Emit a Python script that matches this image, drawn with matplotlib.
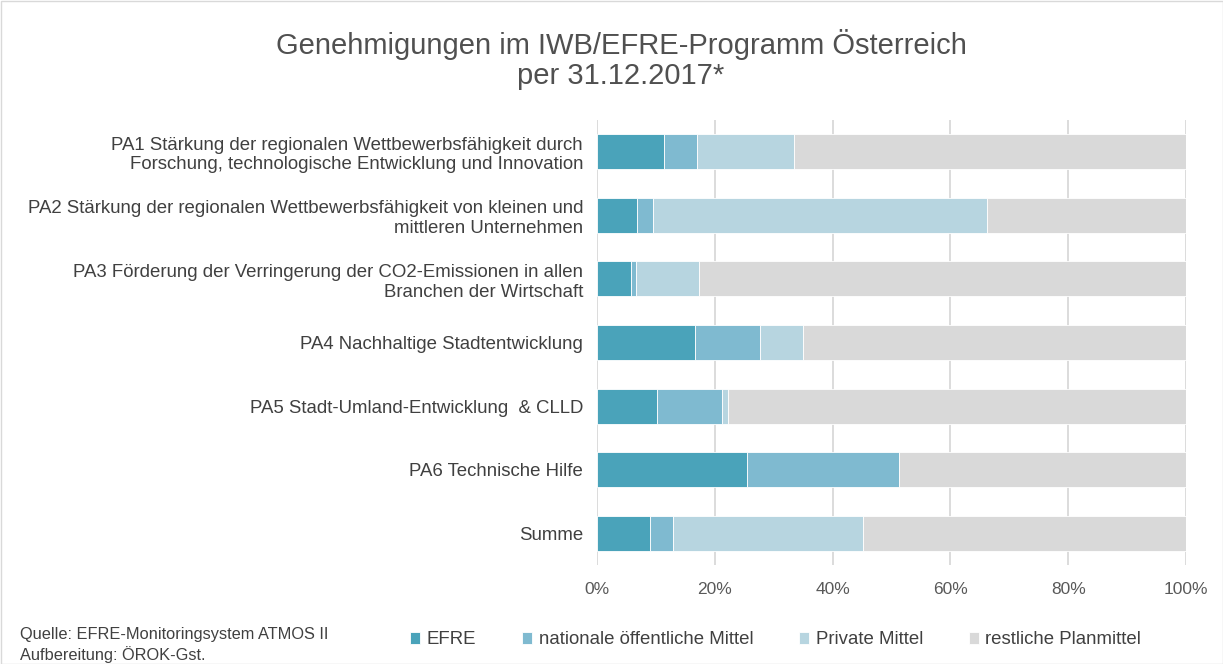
import matplotlib
matplotlib.use("Agg")
import matplotlib.pyplot as plt
from matplotlib.patches import Rectangle
import numpy as np

plt.rcParams['font.family'] = ['Liberation Sans', 'DejaVu Sans']

categories = [
    "PA1 Stärkung der regionalen Wettbewerbsfähigkeit durch\nForschung, technologische Entwicklung und Innovation",
    "PA2 Stärkung der regionalen Wettbewerbsfähigkeit von kleinen und\nmittleren Unternehmen",
    "PA3 Förderung der Verringerung der CO2-Emissionen in allen\nBranchen der Wirtschaft",
    "PA4 Nachhaltige Stadtentwicklung",
    "PA5 Stadt-Umland-Entwicklung  & CLLD",
    "PA6 Technische Hilfe",
    "Summe",
]
efre = [11.4, 6.8, 5.8, 16.6, 10.2, 25.5, 9.0]
national = [5.5, 2.7, 0.9, 11.1, 11.1, 25.7, 3.9]
private = [16.6, 56.7, 10.6, 7.3, 0.9, 0.0, 32.3]
rest = [100 - a - b - c for a, b, c in zip(efre, national, private)]

series_names = ["EFRE", "nationale öffentliche Mittel", "Private Mittel", "restliche Planmittel"]
colors = ["#4AA3BA", "#7FBAD0", "#B7D5E0", "#D9D9D9"]
xticks = [0, 20, 40, 60, 80, 100]
xticklabels = ["0%", "20%", "40%", "60%", "80%", "100%"]

fig = plt.figure(figsize=(12.23, 6.64), dpi=100)
ax = fig.add_axes([597/1223, 1 - 565/664, (1186-597)/1223, (565-120)/664])

y = np.arange(len(categories))
left = np.zeros(len(categories))
for vals, name, col in zip([efre, national, private, rest], series_names, colors):
    ax.barh(y, vals, left=left, height=0.55, color=col, edgecolor="white", linewidth=0.6, label=name, zorder=3)
    left += np.array(vals)

ax.set_xlim(0, 100)
ax.set_ylim(len(categories) - 0.5, -0.5)
ax.set_yticks(y)
ax.set_yticklabels(categories, fontsize=13.4, color="#404040", ha="right")
ax.set_xticks(xticks)
ax.set_xticklabels(xticklabels, fontsize=12.5, color="#595959")
ax.tick_params(axis="y", length=0, pad=10)
ax.tick_params(axis="x", length=0, pad=12)
ax.grid(axis="x", color="#D9D9D9", linewidth=1.3, zorder=0)
for s in ax.spines.values():
    s.set_visible(False)

fig.text(621/1223, 1 - 45/664, "Genehmigungen im IWB/EFRE-Programm Österreich", ha="center", va="center",
         fontsize=21, color="#505050")
fig.text(621/1223, 1 - 76/664, "per 31.12.2017*", ha="center", va="center", fontsize=21, color="#505050")

fig.text(20/1223, 1 - 634/664, "Quelle: EFRE-Monitoringsystem ATMOS II", ha="left", va="center",
         fontsize=11.8, color="#404040")
fig.text(20/1223, 1 - 655/664, "Aufbereitung: ÖROK-Gst.", ha="left", va="center",
         fontsize=11.8, color="#404040")

handles, labels = ax.get_legend_handles_labels()
leg = fig.legend(handles, labels, loc="center left", bbox_to_anchor=(410/1223, 1 - 640/664), ncol=4, frameon=False,
                 fontsize=13.4, handlelength=0.55, handleheight=0.55, handletextpad=0.35, columnspacing=2.45,
                 labelcolor="#404040", borderpad=0, borderaxespad=0)

fig.add_artist(Rectangle((0.5/1223, 0.5/664), 1 - 1/1223, 1 - 1/664, transform=fig.transFigure,
                         fill=False, edgecolor="#D9D9D9", linewidth=1))

fig.savefig("out.png", dpi=100)
